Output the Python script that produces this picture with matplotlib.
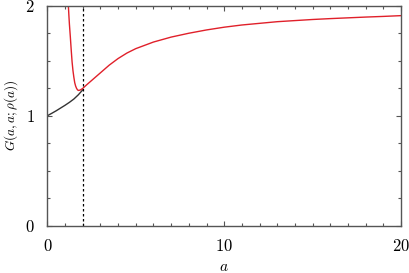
import matplotlib
matplotlib.use("Agg")
import matplotlib.pyplot as plt
from matplotlib.ticker import MultipleLocator

plt.rcParams['font.family'] = 'serif'
plt.rcParams['font.serif'] = ['cmr10']
plt.rcParams['mathtext.fontset'] = 'cm'
plt.rcParams['axes.formatter.use_mathtext'] = True

# black curve, a < 2
a_black = [0.0, 0.25, 0.5, 0.75, 1.0, 1.25, 1.5, 1.75, 2.0]
g_black = [1.0, 1.022, 1.045, 1.07, 1.095, 1.122, 1.152, 1.19, 1.235]

# red curve
a_red = [1.19, 1.22, 1.25, 1.3, 1.35, 1.4, 1.45, 1.5, 1.55, 1.6, 1.65, 1.7, 1.75, 1.85, 2.0,
         2.25, 2.5, 2.75, 3.0, 3.5, 4.0, 4.5, 5.0, 5.5, 6.0, 7.0, 8.0, 9.0, 10.0,
         11.0, 12.0, 13.0, 14.0, 15.0, 16.0, 17.0, 18.0, 19.0, 20.0]
g_red = [2.0, 1.91, 1.83, 1.72, 1.60, 1.49, 1.41, 1.35, 1.30, 1.27, 1.25, 1.237, 1.23, 1.233, 1.248,
         1.285, 1.32, 1.355, 1.39, 1.46, 1.52, 1.57, 1.61, 1.64, 1.67, 1.715, 1.75, 1.78, 1.805,
         1.825, 1.84, 1.855, 1.865, 1.875, 1.883, 1.89, 1.897, 1.903, 1.91]

a_crit = 2.0

fig = plt.figure(figsize=(4.1, 2.73), dpi=100)
ax = fig.add_axes([0.1154, 0.173, 0.863, 0.806])

ax.plot(a_black, g_black, color='#333333', lw=1.0)
ax.plot(a_red, g_red, color='#e0202a', lw=1.0)
ax.axvline(a_crit, color='black', lw=0.9, ls=(0, (2, 2)))

ax.set_xlim(0, 20)
ax.set_ylim(0, 2)
ax.set_xticks([0, 10, 20])
ax.set_yticks([0, 1, 2])
ax.xaxis.set_minor_locator(MultipleLocator(1))
ax.yaxis.set_minor_locator(MultipleLocator(0.25))
ax.tick_params(which='both', direction='in', top=True, right=True, color='#555555', width=0.8)
ax.tick_params(which='major', length=3.5, labelsize=12)
ax.tick_params(which='minor', length=2.5)
ax.tick_params(axis='x', which='major', pad=9)
ax.tick_params(axis='y', which='major', pad=9)
for s in ax.spines.values():
    s.set_color('#555555')
    s.set_linewidth(1.0)

ax.set_xlabel(r'$a$', fontsize=11, labelpad=4)
ax.set_ylabel(r'$G(a,a;\rho(a))$', fontsize=9.5, labelpad=4)

fig.savefig('out.png', dpi=100)
